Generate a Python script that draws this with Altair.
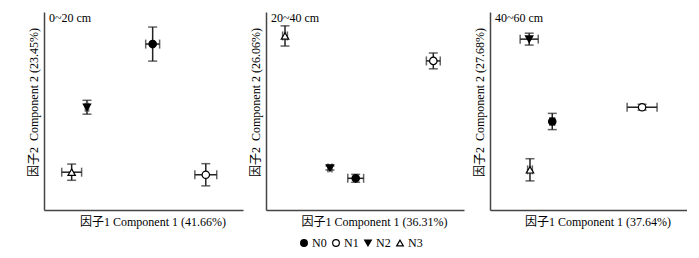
import altair as alt
import pandas as pd

treat = ["N0", "N1", "N2", "N3"]
shapes = ["circle", "circle", "triangle-down", "triangle-up"]
fills = ["black", "white", "black", "white"]
strokes = ["black", "black", "black", "black"]

depths = ["0~20 cm", "20~40 cm", "40~60 cm"]
x_titles = ["因子1 Component 1 (41.66%)", "因子1 Component 1 (36.31%)", "因子1 Component 1 (37.64%)"]
y_titles = ["因子2\u2002Component 2 (23.45%)", "因子2\u2002Component 2 (26.06%)", "因子2\u2002Component 2 (27.68%)"]

# scores (arbitrary units 0-100) and error half-widths, order N0, N1, N2, N3
p1_x = [54.6, 81.3, 21.6, 13.9]
p1_y = [83.8, 17.8, 51.9, 19.1]
p1_ex = [3.5, 5.5, 0.8, 5.0]
p1_ey = [8.6, 5.6, 3.5, 4.1]

p2_x = [45.3, 84.5, 32.3, 9.6]
p2_y = [16.0, 75.3, 21.2, 87.9]
p2_ex = [4.0, 3.5, 1.0, 1.2]
p2_ey = [2.0, 4.0, 1.0, 5.1]

p3_x = [31.6, 77.2, 19.9, 20.3]
p3_y = [44.7, 51.9, 86.3, 20.3]
p3_ex = [1.2, 7.6, 4.6, 1.2]
p3_ey = [4.1, 1.5, 3.0, 5.6]

panels = [(p1_x, p1_y, p1_ex, p1_ey), (p2_x, p2_y, p2_ex, p2_ey), (p3_x, p3_y, p3_ex, p3_ey)]
widths = [199, 198, 197]
H = 198
FONT = "'Liberation Serif', 'Times New Roman', 'Noto Sans CJK SC', serif"
INK = "#222"

shape_scale = alt.Scale(domain=treat, range=shapes)
fill_scale = alt.Scale(domain=treat, range=fills)
stroke_scale = alt.Scale(domain=treat, range=strokes)


def leg():
    return alt.Legend(
        title=None, orient="none", direction="horizontal", legendX=254, legendY=225,
        symbolSize=45, symbolStrokeWidth=1.2,
        labelFont=FONT, labelFontSize=12, labelColor="black", columnPadding=3, labelOffset=2)


def panel(i):
    xs, ys, exs, eys = panels[i]
    df = pd.DataFrame({"treat": treat, "x": xs, "y": ys, "ex": exs, "ey": eys})
    df["xlo"] = df.x - df.ex
    df["xhi"] = df.x + df.ex
    df["ylo"] = df.y - df.ey
    df["yhi"] = df.y + df.ey
    xsc = alt.Scale(domain=[0, 100], nice=False, zero=False)
    ysc = alt.Scale(domain=[0, 100], nice=False, zero=False)
    xax = alt.Axis(title=x_titles[i], labels=False, ticks=False, grid=False, titlePadding=6,
                   titleColor="black", titleFont=FONT, titleX=widths[i] / 2 + 9)
    yax = alt.Axis(title=y_titles[i], labels=False, ticks=False, grid=False, titlePadding=4,
                   titleColor="black", titleFont=FONT, titleY=H / 2 - 9)
    base = alt.Chart(df)
    vrule = base.mark_rule(color=INK, strokeWidth=1.5).encode(
        x=alt.X("x:Q", scale=xsc, axis=xax), y=alt.Y("ylo:Q", scale=ysc, axis=yax), y2="yhi:Q")
    hrule = base.mark_rule(color=INK, strokeWidth=1.5).encode(
        x=alt.X("xlo:Q", scale=xsc), x2="xhi:Q", y=alt.Y("y:Q", scale=ysc))
    caps = []
    for f in ["ylo", "yhi"]:
        caps.append(base.mark_tick(color=INK, orient="horizontal", size=9, thickness=1.5).encode(
            x=alt.X("x:Q", scale=xsc), y=alt.Y(f + ":Q", scale=ysc)))
    for f in ["xlo", "xhi"]:
        caps.append(base.mark_tick(color=INK, orient="vertical", size=9, thickness=1.5).encode(
            x=alt.X(f + ":Q", scale=xsc), y=alt.Y("y:Q", scale=ysc)))
    pts = base.mark_point(size=55, strokeWidth=1.2, opacity=1).encode(
        x=alt.X("x:Q", scale=xsc), y=alt.Y("y:Q", scale=ysc),
        shape=alt.Shape("treat:N", scale=shape_scale, legend=leg()),
        fill=alt.Fill("treat:N", scale=fill_scale, legend=leg()),
        stroke=alt.Stroke("treat:N", scale=stroke_scale, legend=leg()),
    )
    lab = alt.Chart(pd.DataFrame({"t": [depths[i]]})).mark_text(
        align="left", baseline="top", font=FONT, fontSize=12, color="black").encode(
        text="t:N", x=alt.value(5), y=alt.value(1))
    return alt.layer(vrule, hrule, *caps, pts, lab).properties(width=widths[i], height=H)


chart = alt.hconcat(
    alt.hconcat(panel(0), panel(1), spacing=6),
    panel(2), spacing=9,
).resolve_scale(shape="shared", fill="shared", stroke="shared").properties(
    padding={"left": 19, "top": 4, "right": 0, "bottom": 0}
).configure_view(stroke=None).configure_axis(
    domainColor="#444", domainWidth=1.5, titleFont=FONT, titleFontSize=12,
    titleFontWeight="normal", titleColor="black"
)

chart.save("out.html", embed_options={"renderer": "svg", "actions": False})
